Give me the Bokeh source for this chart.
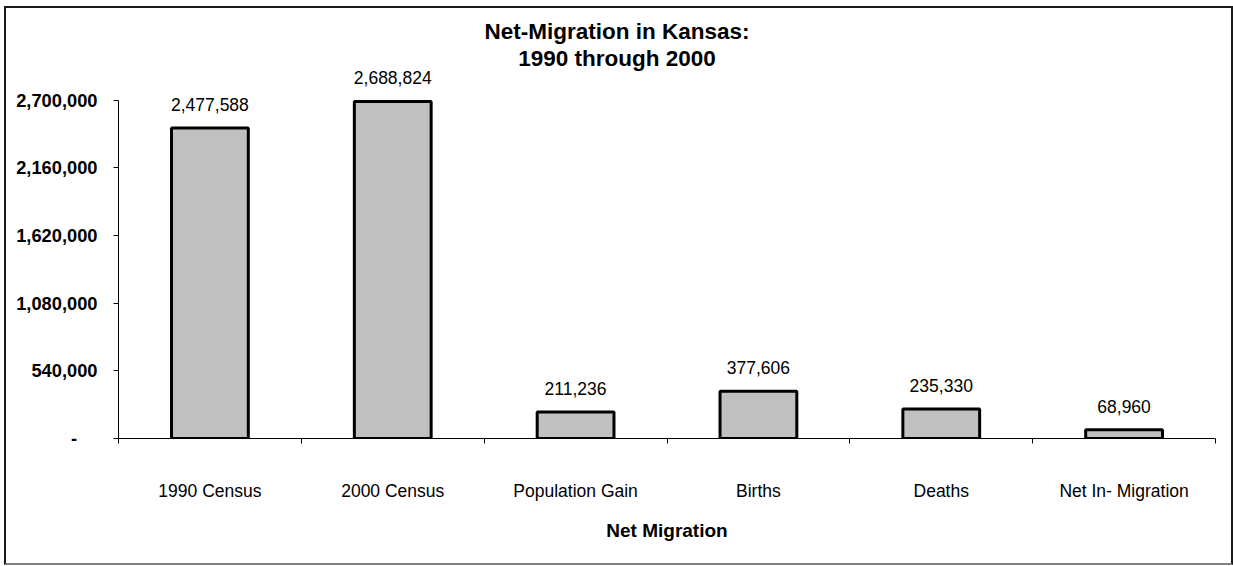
from bokeh.plotting import figure
from bokeh.models import (ColumnDataSource, FixedTicker, NumeralTickFormatter,
                          LabelSet, Label, Range1d, InlineStyleSheet)
from bokeh.core.properties import value
from bokeh.embed import file_html
from bokeh.resources import INLINE

# Kansas population components, 1990-2000
categories = ["1990 Census", "2000 Census", "Population Gain", "Births", "Deaths", "Net In- Migration"]
values = [2477588, 2688824, 211236, 377606, 235330, 68960]
y_ticks = [0, 540000, 1080000, 1620000, 2160000, 2700000]

title_lines = ["Net-Migration in Kansas:", "1990 through 2000"]
x_title = "Net Migration"

FONT = "Liberation Sans"
W, H = 1233, 566

# plot-area geometry (pixels)
LEFT, RIGHT = 118, 18
AXIS_Y = 438          # pixel row of the value axis zero line
TOP_TICK_Y = 99.5     # pixel row of the highest tick
FRAME_TOP = 10

# the frame reaches above the highest tick so value labels and title fit inside it
frame_h = AXIS_Y - FRAME_TOP
y_end = y_ticks[-1] * frame_h / (AXIS_Y - TOP_TICK_Y)

centers = [i + 0.5 for i in range(len(categories))]
source = ColumnDataSource(dict(
    x=centers,
    top=values,
    label=[f"{v:,}" for v in values],
))

p = figure(width=W, height=H, output_backend="svg", toolbar_location=None,
           x_range=Range1d(0, len(categories)), y_range=Range1d(0, y_end),
           min_border_left=LEFT, min_border_right=RIGHT,
           min_border_top=FRAME_TOP, min_border_bottom=H - AXIS_Y)
p.outline_line_color = None
p.grid.visible = False
p.background_fill_color = "white"
p.border_fill_color = "white"

# thin frame around the whole chart area
p.stylesheets = [InlineStyleSheet(css="""
:host { position: relative; }
:host::after {
  content: "";
  position: absolute;
  left: 4px; top: 6px; width: 1229px; height: 559px;
  box-sizing: border-box;
  border: 2px solid #1a1a1a;
  border-bottom-color: #808080;
  pointer-events: none;
  z-index: 10;
}
""")]

p.vbar(x="x", top="top", width=0.42, source=source,
       fill_color="#C0C0C0", line_color="black", line_width=3)

# value labels above each bar
p.add_layout(LabelSet(x="x", y="top", text="label", source=source,
                      text_align="center", text_baseline="alphabetic",
                      y_offset=17, text_font=value(FONT),
                      text_font_size=value("17.5px"), text_color="black"))

# category axis: ticks at category boundaries, labels at centers
xa = p.xaxis[0]
xa.ticker = FixedTicker(ticks=centers, minor_ticks=list(range(len(categories) + 1)))
xa.major_label_overrides = {c: name for c, name in zip(centers, categories)}
xa.major_tick_out = 0
xa.major_tick_in = 0
xa.minor_tick_out = 5
xa.minor_tick_in = 0
xa.minor_tick_line_color = "black"
xa.axis_line_color = "black"
xa.major_label_standoff = 37
xa.major_label_text_font = FONT
xa.major_label_text_font_size = "17.5px"
xa.major_label_text_color = "black"
xa.axis_label = x_title
xa.axis_label_text_font = FONT
xa.axis_label_text_font_size = "19px"
xa.axis_label_text_font_style = "bold"
xa.axis_label_text_color = "black"
xa.axis_label_standoff = 16

ya = p.yaxis[0]
ya.ticker = FixedTicker(ticks=y_ticks)
ya.formatter = NumeralTickFormatter(format="0,0")
ya.major_label_overrides = {0: "-" + "\u00a0" * 4}
ya.bounds = (0, y_ticks[-1])
ya.major_tick_out = 5
ya.major_tick_in = 0
ya.minor_tick_line_color = None
ya.major_tick_line_color = "black"
ya.axis_line_color = "black"
ya.major_label_standoff = 16
ya.major_label_text_font = FONT
ya.major_label_text_font_size = "18.3px"
ya.major_label_text_font_style = "bold"
ya.major_label_text_color = "black"

# two-line chart title, centred on the whole chart area
title_cx = W / 2 - LEFT
for line, base in zip(title_lines, [31, 58]):
    p.add_layout(Label(x=title_cx, y=AXIS_Y - base, x_units="screen", y_units="screen",
                       text=line, text_align="center", text_baseline="alphabetic",
                       text_font=FONT, text_font_size="22.5px",
                       text_font_style="bold", text_color="black"))

open("out.html", "w").write(file_html(p, INLINE))
